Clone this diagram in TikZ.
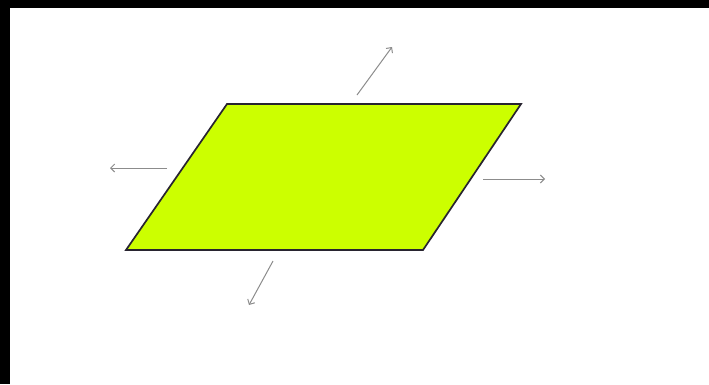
\documentclass[tikz,border=0pt]{standalone}
\usetikzlibrary{arrows.meta}
\definecolor{platelime}{RGB}{204, 255, 0}
\definecolor{edgedark}{RGB}{40, 36, 48}
\definecolor{pullgray}{RGB}{140, 140, 140}

\begin{document}
\begin{tikzpicture}[x=1pt, y=-1pt]
  \useasboundingbox (0,0) rectangle (709,384);
  \fill[white] (0,0) rectangle (709,384);
  \fill[black] (0,0) rectangle (709,8);
  \fill[black] (0,0) rectangle (10,384);

  % the plate
  \filldraw[fill=platelime, draw=edgedark, line width=1.7pt] (227,104) -- (521,104) -- (423,250) -- (126,250) -- cycle;

  % pulling directions
  \coordinate (upFrom) at (357,95);
  \coordinate (upTo) at (392,47);
  \coordinate (leftFrom) at (167,168);
  \coordinate (leftTo) at (110,168);
  \coordinate (rightFrom) at (483,179);
  \coordinate (rightTo) at (545,179);
  \coordinate (downFrom) at (273,261);
  \coordinate (downTo) at (249,305);

  \draw[-{Straight Barb[length=4pt, width=8pt]}, pullgray, line width=1pt] (upFrom) -- (upTo);
  \draw[-{Straight Barb[length=4pt, width=8pt]}, pullgray, line width=1pt] (leftFrom) -- (leftTo);
  \draw[-{Straight Barb[length=4pt, width=8pt]}, pullgray, line width=1pt] (rightFrom) -- (rightTo);
  \draw[-{Straight Barb[length=4pt, width=8pt]}, pullgray, line width=1pt] (downFrom) -- (downTo);
\end{tikzpicture}
\end{document}
